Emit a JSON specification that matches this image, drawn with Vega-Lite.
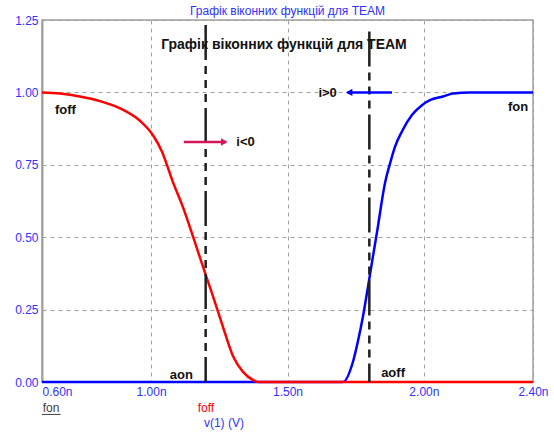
{
  "$schema": "https://vega.github.io/schema/vega-lite/v6.json",
  "width": 491,
  "height": 362,
  "autosize": "none",
  "padding": {"left": 42, "top": 20, "right": 21, "bottom": 50},
  "background": "white",
  "title": {"text": "Графік віконних функцій для TEAM", "color": "#3030ff", "font": "Liberation Sans", "fontSize": 12, "fontWeight": "normal", "anchor": "middle", "offset": 0, "dy": 4},
  "config": {
    "view": {"stroke": "#a0a0a0", "strokeWidth": 1.5},
    "axis": {"labelFont": "Liberation Sans", "labelFontSize": 12, "labelColor": "#3030ff", "ticks": false, "grid": true, "gridColor": "#a0a0a0", "gridDash": [4, 4], "gridWidth": 1, "domainColor": "#a0a0a0", "domainWidth": 2, "title": null}
  },
  "datasets": {
    "curves": [
      {"s": "fon", "x": 0.6, "y": 0},
      {"s": "fon", "x": 1.703, "y": 0},
      {"s": "fon", "x": 1.74, "y": 0.07},
      {"s": "fon", "x": 1.758, "y": 0.14},
      {"s": "fon", "x": 1.777, "y": 0.228},
      {"s": "fon", "x": 1.795, "y": 0.328},
      {"s": "fon", "x": 1.813, "y": 0.432},
      {"s": "fon", "x": 1.832, "y": 0.54},
      {"s": "fon", "x": 1.845, "y": 0.62},
      {"s": "fon", "x": 1.857, "y": 0.685},
      {"s": "fon", "x": 1.876, "y": 0.755},
      {"s": "fon", "x": 1.894, "y": 0.812},
      {"s": "fon", "x": 1.92, "y": 0.866},
      {"s": "fon", "x": 1.956, "y": 0.922},
      {"s": "fon", "x": 1.993, "y": 0.956},
      {"s": "fon", "x": 2.022, "y": 0.973},
      {"s": "fon", "x": 2.07, "y": 0.986},
      {"s": "fon", "x": 2.107, "y": 0.996},
      {"s": "fon", "x": 2.169, "y": 1.0},
      {"s": "fon", "x": 2.4, "y": 1.0},
      {"s": "foff", "x": 0.6, "y": 1.0},
      {"s": "foff", "x": 0.666, "y": 0.996},
      {"s": "foff", "x": 0.739, "y": 0.986},
      {"s": "foff", "x": 0.813, "y": 0.97},
      {"s": "foff", "x": 0.886, "y": 0.945},
      {"s": "foff", "x": 0.959, "y": 0.902},
      {"s": "foff", "x": 1.007, "y": 0.852},
      {"s": "foff", "x": 1.04, "y": 0.795},
      {"s": "foff", "x": 1.08, "y": 0.69},
      {"s": "foff", "x": 1.117, "y": 0.603},
      {"s": "foff", "x": 1.154, "y": 0.501},
      {"s": "foff", "x": 1.198, "y": 0.376},
      {"s": "foff", "x": 1.223, "y": 0.307},
      {"s": "foff", "x": 1.26, "y": 0.2},
      {"s": "foff", "x": 1.3, "y": 0.09},
      {"s": "foff", "x": 1.337, "y": 0.035},
      {"s": "foff", "x": 1.373, "y": 0.007},
      {"s": "foff", "x": 1.395, "y": 0},
      {"s": "foff", "x": 2.4, "y": 0}
    ],
    "markers": [
      {"x": 1.2, "y0": 0, "y1": 1.233},
      {"x": 1.8, "y0": 0, "y1": 1.21}
    ],
    "arrows": [
      {"name": "neg", "x": 1.12, "x2": 1.275, "y": 0.829},
      {"name": "pos", "x": 1.883, "x2": 1.72, "y": 1.0}
    ],
    "heads": [
      {"name": "neg", "x": 1.268, "y": 0.829},
      {"name": "pos", "x": 1.726, "y": 1.0}
    ],
    "labels": [
      {"text": "foff", "x": 0.686, "y": 0.939},
      {"text": "fon", "x": 2.345, "y": 0.95},
      {"text": "aon", "x": 1.111, "y": 0.024},
      {"text": "aoff", "x": 1.887, "y": 0.031},
      {"text": "i<0", "x": 1.346, "y": 0.829},
      {"text": "i>0", "x": 1.647, "y": 0.998}
    ],
    "inner": [
      {"text": "Графік віконних функцій для TEAM", "x": 1.487, "y": 1.164}
    ],
    "bottom": [
      {"text": "fon", "x": 0.633, "y": -0.09, "k": "fon"},
      {"text": "foff", "x": 1.201, "y": -0.09, "k": "foff"},
      {"text": "v(1) (V)", "x": 1.267, "y": -0.142, "k": "var"}
    ],
    "underline": [
      {"x": 0.6, "x2": 0.668, "y": -0.112}
    ]
  },
  "layer": [
    {
      "data": {"name": "curves"},
      "transform": [{"filter": "datum.s == 'fon'"}],
      "mark": {"type": "line", "color": "#0000ff", "strokeWidth": 2.5, "interpolate": "monotone"},
      "encoding": {
        "x": {"field": "x", "type": "quantitative", "scale": {"domain": [0.6, 2.4], "nice": false, "zero": false}, "axis": {"values": [0.6, 1.0, 1.5, 2.0, 2.4], "labelExpr": "format(datum.value, '.2f') + 'n'", "labelAlign": {"expr": "datum.value == 0.6 ? 'left' : 'center'"}, "labelPadding": 4, "domain": false}},
        "y": {"field": "y", "type": "quantitative", "scale": {"domain": [0, 1.25], "nice": false}, "axis": {"values": [0, 0.25, 0.5, 0.75, 1.0, 1.25], "format": ".2f", "labelPadding": 4}},
        "order": {"field": "x", "type": "quantitative"}
      }
    },
    {
      "data": {"name": "curves"},
      "transform": [{"filter": "datum.s == 'foff'"}],
      "mark": {"type": "line", "color": "#ff0000", "strokeWidth": 2.5, "interpolate": "monotone"},
      "encoding": {
        "x": {"field": "x", "type": "quantitative"},
        "y": {"field": "y", "type": "quantitative"},
        "order": {"field": "x", "type": "quantitative"}
      }
    },
    {
      "data": {"name": "markers"},
      "mark": {"type": "rule", "color": "#202020", "strokeWidth": 2.5, "strokeDash": [35, 6, 8, 6, 8, 6, 8, 6]},
      "encoding": {
        "x": {"field": "x", "type": "quantitative"},
        "y": {"field": "y1", "type": "quantitative"},
        "y2": {"field": "y0"}
      }
    },
    {
      "data": {"name": "arrows"},
      "mark": {"type": "rule", "strokeWidth": 2.5},
      "encoding": {
        "x": {"field": "x", "type": "quantitative"},
        "x2": {"field": "x2"},
        "y": {"field": "y", "type": "quantitative"},
        "color": {"field": "name", "type": "nominal", "scale": {"domain": ["neg", "pos"], "range": ["#d4145a", "#0000ff"]}, "legend": null}
      }
    },
    {
      "data": {"name": "heads"},
      "mark": {"type": "point", "filled": true, "size": 55, "opacity": 1},
      "encoding": {
        "x": {"field": "x", "type": "quantitative"},
        "y": {"field": "y", "type": "quantitative"},
        "color": {"field": "name", "type": "nominal", "scale": {"domain": ["neg", "pos"], "range": ["#d4145a", "#0000ff"]}, "legend": null},
        "shape": {"field": "name", "type": "nominal", "scale": {"domain": ["neg", "pos"], "range": ["triangle-right", "triangle-left"]}, "legend": null}
      }
    },
    {
      "data": {"name": "labels"},
      "mark": {"type": "text", "font": "Liberation Sans", "fontSize": 13, "fontWeight": "bold", "color": "#111111", "align": "center", "baseline": "middle"},
      "encoding": {
        "x": {"field": "x", "type": "quantitative"},
        "y": {"field": "y", "type": "quantitative"},
        "text": {"field": "text"}
      }
    },
    {
      "data": {"name": "inner"},
      "mark": {"type": "text", "font": "Liberation Sans", "fontSize": 14, "fontWeight": "bold", "color": "#111111", "align": "center", "baseline": "middle"},
      "encoding": {
        "x": {"field": "x", "type": "quantitative"},
        "y": {"field": "y", "type": "quantitative"},
        "text": {"field": "text"}
      }
    },
    {
      "data": {"name": "bottom"},
      "transform": [{"filter": "datum.k == 'fon'"}],
      "mark": {"type": "text", "font": "Liberation Sans", "fontSize": 12, "align": "center", "baseline": "middle", "color": "#404040"},
      "encoding": {
        "x": {"field": "x", "type": "quantitative"},
        "y": {"field": "y", "type": "quantitative"},
        "text": {"field": "text"}
      }
    },
    {
      "data": {"name": "bottom"},
      "transform": [{"filter": "datum.k == 'foff'"}],
      "mark": {"type": "text", "font": "Liberation Sans", "fontSize": 12, "align": "center", "baseline": "middle", "color": "#ff0000"},
      "encoding": {
        "x": {"field": "x", "type": "quantitative"},
        "y": {"field": "y", "type": "quantitative"},
        "text": {"field": "text"}
      }
    },
    {
      "data": {"name": "bottom"},
      "transform": [{"filter": "datum.k == 'var'"}],
      "mark": {"type": "text", "font": "Liberation Sans", "fontSize": 12, "align": "center", "baseline": "middle", "color": "#3030ff"},
      "encoding": {
        "x": {"field": "x", "type": "quantitative"},
        "y": {"field": "y", "type": "quantitative"},
        "text": {"field": "text"}
      }
    },
    {
      "data": {"name": "underline"},
      "mark": {"type": "rule", "color": "#404040", "strokeWidth": 1},
      "encoding": {
        "x": {"field": "x", "type": "quantitative"},
        "x2": {"field": "x2"},
        "y": {"field": "y", "type": "quantitative"}
      }
    }
  ]
}
